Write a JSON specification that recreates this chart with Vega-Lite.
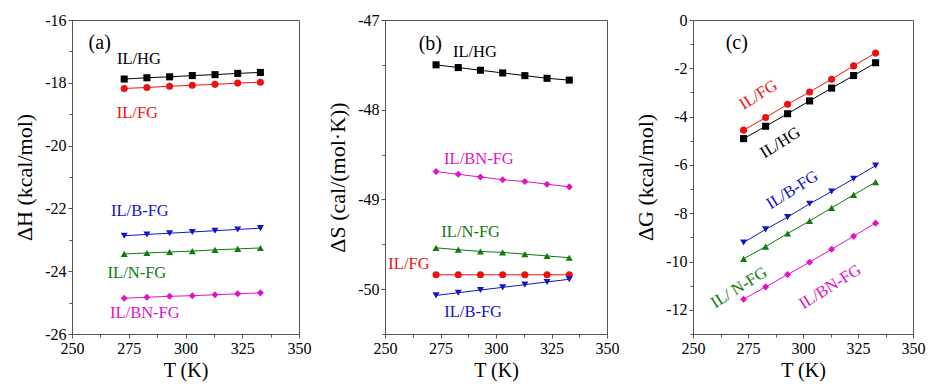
{
  "$schema": "https://vega.github.io/schema/vega-lite/v6.json",
  "padding": {"left": 13, "top": 11, "right": 5, "bottom": 5},
  "background": "white",
  "spacing": 86,
  "bounds": "flush",
  "config": {
    "font": "Liberation Serif",
    "view": {"stroke": "#555", "strokeWidth": 1},
    "axis": {
      "grid": false,
      "labelFont": "Liberation Serif",
      "titleFont": "Liberation Serif",
      "labelFontSize": 16,
      "titleFontWeight": "normal",
      "labelColor": "#000",
      "titleColor": "#000",
      "domainColor": "#555",
      "tickColor": "#555",
      "labelPadding": 2,
      "labelFlush": false
    },
    "axisX": {"titleFontSize": 20, "titlePadding": 4},
    "axisY": {"titleFontSize": 22, "titlePadding": 8},
    "text": {"font": "Liberation Serif", "fontSize": 16}
  },
  "datasets": {
    "pts": [
      {"panel": "a", "series": "IL/HG", "T": 273, "v": -17.88},
      {"panel": "a", "series": "IL/HG", "T": 283, "v": -17.84},
      {"panel": "a", "series": "IL/HG", "T": 293, "v": -17.81},
      {"panel": "a", "series": "IL/HG", "T": 303, "v": -17.77},
      {"panel": "a", "series": "IL/HG", "T": 313, "v": -17.74},
      {"panel": "a", "series": "IL/HG", "T": 323, "v": -17.70},
      {"panel": "a", "series": "IL/HG", "T": 333, "v": -17.67},
      {"panel": "a", "series": "IL/FG", "T": 273, "v": -18.18},
      {"panel": "a", "series": "IL/FG", "T": 283, "v": -18.15},
      {"panel": "a", "series": "IL/FG", "T": 293, "v": -18.11},
      {"panel": "a", "series": "IL/FG", "T": 303, "v": -18.08},
      {"panel": "a", "series": "IL/FG", "T": 313, "v": -18.05},
      {"panel": "a", "series": "IL/FG", "T": 323, "v": -18.01},
      {"panel": "a", "series": "IL/FG", "T": 333, "v": -17.98},
      {"panel": "a", "series": "IL/B-FG", "T": 273, "v": -22.87},
      {"panel": "a", "series": "IL/B-FG", "T": 283, "v": -22.83},
      {"panel": "a", "series": "IL/B-FG", "T": 293, "v": -22.79},
      {"panel": "a", "series": "IL/B-FG", "T": 303, "v": -22.75},
      {"panel": "a", "series": "IL/B-FG", "T": 313, "v": -22.71},
      {"panel": "a", "series": "IL/B-FG", "T": 323, "v": -22.67},
      {"panel": "a", "series": "IL/B-FG", "T": 333, "v": -22.63},
      {"panel": "a", "series": "IL/N-FG", "T": 273, "v": -23.45},
      {"panel": "a", "series": "IL/N-FG", "T": 283, "v": -23.42},
      {"panel": "a", "series": "IL/N-FG", "T": 293, "v": -23.39},
      {"panel": "a", "series": "IL/N-FG", "T": 303, "v": -23.36},
      {"panel": "a", "series": "IL/N-FG", "T": 313, "v": -23.32},
      {"panel": "a", "series": "IL/N-FG", "T": 323, "v": -23.29},
      {"panel": "a", "series": "IL/N-FG", "T": 333, "v": -23.26},
      {"panel": "a", "series": "IL/BN-FG", "T": 273, "v": -24.86},
      {"panel": "a", "series": "IL/BN-FG", "T": 283, "v": -24.83},
      {"panel": "a", "series": "IL/BN-FG", "T": 293, "v": -24.80},
      {"panel": "a", "series": "IL/BN-FG", "T": 303, "v": -24.78},
      {"panel": "a", "series": "IL/BN-FG", "T": 313, "v": -24.75},
      {"panel": "a", "series": "IL/BN-FG", "T": 323, "v": -24.72},
      {"panel": "a", "series": "IL/BN-FG", "T": 333, "v": -24.69},
      {"panel": "b", "series": "IL/HG", "T": 273, "v": -47.50},
      {"panel": "b", "series": "IL/HG", "T": 283, "v": -47.53},
      {"panel": "b", "series": "IL/HG", "T": 293, "v": -47.56},
      {"panel": "b", "series": "IL/HG", "T": 303, "v": -47.59},
      {"panel": "b", "series": "IL/HG", "T": 313, "v": -47.62},
      {"panel": "b", "series": "IL/HG", "T": 323, "v": -47.65},
      {"panel": "b", "series": "IL/HG", "T": 333, "v": -47.67},
      {"panel": "b", "series": "IL/BN-FG", "T": 273, "v": -48.69},
      {"panel": "b", "series": "IL/BN-FG", "T": 283, "v": -48.72},
      {"panel": "b", "series": "IL/BN-FG", "T": 293, "v": -48.75},
      {"panel": "b", "series": "IL/BN-FG", "T": 303, "v": -48.78},
      {"panel": "b", "series": "IL/BN-FG", "T": 313, "v": -48.80},
      {"panel": "b", "series": "IL/BN-FG", "T": 323, "v": -48.83},
      {"panel": "b", "series": "IL/BN-FG", "T": 333, "v": -48.86},
      {"panel": "b", "series": "IL/N-FG", "T": 273, "v": -49.54},
      {"panel": "b", "series": "IL/N-FG", "T": 283, "v": -49.56},
      {"panel": "b", "series": "IL/N-FG", "T": 293, "v": -49.58},
      {"panel": "b", "series": "IL/N-FG", "T": 303, "v": -49.59},
      {"panel": "b", "series": "IL/N-FG", "T": 313, "v": -49.61},
      {"panel": "b", "series": "IL/N-FG", "T": 323, "v": -49.63},
      {"panel": "b", "series": "IL/N-FG", "T": 333, "v": -49.65},
      {"panel": "b", "series": "IL/FG", "T": 273, "v": -49.84},
      {"panel": "b", "series": "IL/FG", "T": 283, "v": -49.84},
      {"panel": "b", "series": "IL/FG", "T": 293, "v": -49.84},
      {"panel": "b", "series": "IL/FG", "T": 303, "v": -49.84},
      {"panel": "b", "series": "IL/FG", "T": 313, "v": -49.84},
      {"panel": "b", "series": "IL/FG", "T": 323, "v": -49.84},
      {"panel": "b", "series": "IL/FG", "T": 333, "v": -49.84},
      {"panel": "b", "series": "IL/B-FG", "T": 273, "v": -50.07},
      {"panel": "b", "series": "IL/B-FG", "T": 283, "v": -50.04},
      {"panel": "b", "series": "IL/B-FG", "T": 293, "v": -50.01},
      {"panel": "b", "series": "IL/B-FG", "T": 303, "v": -49.98},
      {"panel": "b", "series": "IL/B-FG", "T": 313, "v": -49.95},
      {"panel": "b", "series": "IL/B-FG", "T": 323, "v": -49.92},
      {"panel": "b", "series": "IL/B-FG", "T": 333, "v": -49.89},
      {"panel": "c", "series": "IL/FG", "T": 273, "v": -4.56},
      {"panel": "c", "series": "IL/FG", "T": 283, "v": -4.04},
      {"panel": "c", "series": "IL/FG", "T": 293, "v": -3.49},
      {"panel": "c", "series": "IL/FG", "T": 303, "v": -2.98},
      {"panel": "c", "series": "IL/FG", "T": 313, "v": -2.45},
      {"panel": "c", "series": "IL/FG", "T": 323, "v": -1.90},
      {"panel": "c", "series": "IL/FG", "T": 333, "v": -1.37},
      {"panel": "c", "series": "IL/HG", "T": 273, "v": -4.91},
      {"panel": "c", "series": "IL/HG", "T": 283, "v": -4.40},
      {"panel": "c", "series": "IL/HG", "T": 293, "v": -3.88},
      {"panel": "c", "series": "IL/HG", "T": 303, "v": -3.35},
      {"panel": "c", "series": "IL/HG", "T": 313, "v": -2.82},
      {"panel": "c", "series": "IL/HG", "T": 323, "v": -2.30},
      {"panel": "c", "series": "IL/HG", "T": 333, "v": -1.77},
      {"panel": "c", "series": "IL/B-FG", "T": 273, "v": -9.21},
      {"panel": "c", "series": "IL/B-FG", "T": 283, "v": -8.67},
      {"panel": "c", "series": "IL/B-FG", "T": 293, "v": -8.16},
      {"panel": "c", "series": "IL/B-FG", "T": 303, "v": -7.61},
      {"panel": "c", "series": "IL/B-FG", "T": 313, "v": -7.10},
      {"panel": "c", "series": "IL/B-FG", "T": 323, "v": -6.57},
      {"panel": "c", "series": "IL/B-FG", "T": 333, "v": -6.03},
      {"panel": "c", "series": "IL/N-FG", "T": 273, "v": -9.89},
      {"panel": "c", "series": "IL/N-FG", "T": 283, "v": -9.38},
      {"panel": "c", "series": "IL/N-FG", "T": 293, "v": -8.84},
      {"panel": "c", "series": "IL/N-FG", "T": 303, "v": -8.32},
      {"panel": "c", "series": "IL/N-FG", "T": 313, "v": -7.78},
      {"panel": "c", "series": "IL/N-FG", "T": 323, "v": -7.24},
      {"panel": "c", "series": "IL/N-FG", "T": 333, "v": -6.71},
      {"panel": "c", "series": "IL/BN-FG", "T": 273, "v": -11.56},
      {"panel": "c", "series": "IL/BN-FG", "T": 283, "v": -11.05},
      {"panel": "c", "series": "IL/BN-FG", "T": 293, "v": -10.54},
      {"panel": "c", "series": "IL/BN-FG", "T": 303, "v": -10.03},
      {"panel": "c", "series": "IL/BN-FG", "T": 313, "v": -9.49},
      {"panel": "c", "series": "IL/BN-FG", "T": 323, "v": -8.95},
      {"panel": "c", "series": "IL/BN-FG", "T": 333, "v": -8.41}
    ],
    "labels": [
      {"panel": "a", "series": "IL/HG", "text": "IL/HG", "T": 279.5, "v": -17.25},
      {"panel": "a", "series": "IL/FG", "text": "IL/FG", "T": 278.8, "v": -18.97},
      {"panel": "a", "series": "IL/B-FG", "text": "IL/B-FG", "T": 279.9, "v": -22.08},
      {"panel": "a", "series": "IL/N-FG", "text": "IL/N-FG", "T": 278.6, "v": -24.07},
      {"panel": "a", "series": "IL/BN-FG", "text": "IL/BN-FG", "T": 282.1, "v": -25.34},
      {"panel": "b", "series": "IL/HG", "text": "IL/HG", "T": 290.5, "v": -47.36},
      {"panel": "b", "series": "IL/BN-FG", "text": "IL/BN-FG", "T": 292.3, "v": -48.55},
      {"panel": "b", "series": "IL/N-FG", "text": "IL/N-FG", "T": 288.6, "v": -49.36},
      {"panel": "b", "series": "IL/FG", "text": "IL/FG", "T": 260.8, "v": -49.72},
      {"panel": "b", "series": "IL/B-FG", "text": "IL/B-FG", "T": 289.7, "v": -50.25},
      {"panel": "c", "series": "IL/FG", "text": "IL/FG", "T": 279.7, "v": -3.10},
      {"panel": "c", "series": "IL/HG", "text": "IL/HG", "T": 289.7, "v": -5.08},
      {"panel": "c", "series": "IL/B-FG", "text": "IL/B-FG", "T": 295.1, "v": -7.04},
      {"panel": "c", "series": "IL/N-FG", "text": "IL/ N-FG", "T": 270.9, "v": -11.08},
      {"panel": "c", "series": "IL/BN-FG", "text": "IL/BN-FG", "T": 312.3, "v": -11.05}
    ],
    "tags": [
      {"panel": "a", "text": "(a)", "T": 262.2, "v": -16.74},
      {"panel": "b", "text": "(b)", "T": 270.4, "v": -47.27},
      {"panel": "c", "text": "(c)", "T": 269.9, "v": -0.95}
    ]
  },
  "hconcat": [
    {
      "width": 227,
      "height": 314,
      "encoding": {
        "x": {"field": "T", "type": "quantitative", "scale": {"domain": [250, 350], "nice": false, "zero": false},
          "axis": {"title": "T (K)", "values": [250, 262.5, 275, 287.5, 300, 312.5, 325, 337.5, 350],
            "labelExpr": "datum.value % 25 == 0 ? datum.label : ''",
            "tickSize": {"condition": {"test": "datum.value % 25 == 0", "value": 4}, "value": 3}}},
        "y": {"field": "v", "type": "quantitative", "scale": {"domain": [-26, -16], "nice": false, "zero": false},
          "axis": {"title": "ΔH (kcal/mol)", "values": [-26, -25, -24, -23, -22, -21, -20, -19, -18, -17, -16],
            "labelExpr": "datum.value % 2 == 0 ? toString(datum.value) : ''",
            "tickSize": {"condition": {"test": "datum.value % 2 == 0", "value": 4}, "value": 3}}}
      },
      "layer": [
        {"data": {"name": "pts"}, "transform": [{"filter": "datum.panel == 'a'"}],
          "mark": {"type": "line", "strokeWidth": 1},
          "encoding": {"color": {"field": "series", "type": "nominal", "legend": null,
            "scale": {"domain": ["IL/HG", "IL/FG", "IL/B-FG", "IL/N-FG", "IL/BN-FG"], "range": ["#000000", "#ee1111", "#1414c8", "#107a10", "#e014c4"]}}, "detail": {"field": "series"}}},
        {"data": {"name": "pts"}, "transform": [{"filter": "datum.panel == 'a'"}],
          "mark": {"type": "point", "filled": true, "size": 50, "opacity": 1},
          "encoding": {"color": {"field": "series", "type": "nominal", "legend": null},
            "shape": {"field": "series", "type": "nominal", "legend": null,
              "scale": {"domain": ["IL/HG", "IL/FG", "IL/B-FG", "IL/N-FG", "IL/BN-FG"], "range": ["square", "circle", "triangle-down", "triangle-up", "diamond"]}}}},
        {"data": {"name": "labels"}, "transform": [{"filter": "datum.panel == 'a'"}],
          "mark": {"type": "text", "fontSize": 16.5},
          "encoding": {"text": {"field": "text"}, "color": {"field": "series", "type": "nominal", "legend": null}}},
        {"data": {"name": "tags"}, "transform": [{"filter": "datum.panel == 'a'"}],
          "mark": {"type": "text", "fontSize": 20, "color": "#000"},
          "encoding": {"text": {"field": "text"}}}
      ]
    },
    {
      "width": 222,
      "height": 314,
      "encoding": {
        "x": {"field": "T", "type": "quantitative", "scale": {"domain": [250, 350], "nice": false, "zero": false},
          "axis": {"title": "T (K)", "values": [250, 262.5, 275, 287.5, 300, 312.5, 325, 337.5, 350],
            "labelExpr": "datum.value % 25 == 0 ? datum.label : ''",
            "tickSize": {"condition": {"test": "datum.value % 25 == 0", "value": 4}, "value": 3}}},
        "y": {"field": "v", "type": "quantitative", "scale": {"domain": [-50.5, -47], "nice": false, "zero": false},
          "axis": {"title": "ΔS (cal/(mol·K))", "values": [-50.5, -50, -49.5, -49, -48.5, -48, -47.5, -47],
            "labelExpr": "datum.value % 1 == 0 ? toString(datum.value) : ''",
            "tickSize": {"condition": {"test": "datum.value % 1 == 0", "value": 4}, "value": 3}}}
      },
      "layer": [
        {"data": {"name": "pts"}, "transform": [{"filter": "datum.panel == 'b'"}],
          "mark": {"type": "line", "strokeWidth": 1},
          "encoding": {"color": {"field": "series", "type": "nominal", "legend": null,
            "scale": {"domain": ["IL/HG", "IL/FG", "IL/B-FG", "IL/N-FG", "IL/BN-FG"], "range": ["#000000", "#ee1111", "#1414c8", "#107a10", "#e014c4"]}}, "detail": {"field": "series"}}},
        {"data": {"name": "pts"}, "transform": [{"filter": "datum.panel == 'b'"}],
          "mark": {"type": "point", "filled": true, "size": 50, "opacity": 1},
          "encoding": {"color": {"field": "series", "type": "nominal", "legend": null},
            "shape": {"field": "series", "type": "nominal", "legend": null,
              "scale": {"domain": ["IL/HG", "IL/FG", "IL/B-FG", "IL/N-FG", "IL/BN-FG"], "range": ["square", "circle", "triangle-down", "triangle-up", "diamond"]}}}},
        {"data": {"name": "labels"}, "transform": [{"filter": "datum.panel == 'b'"}],
          "mark": {"type": "text", "fontSize": 16.5},
          "encoding": {"text": {"field": "text"}, "color": {"field": "series", "type": "nominal", "legend": null}}},
        {"data": {"name": "tags"}, "transform": [{"filter": "datum.panel == 'b'"}],
          "mark": {"type": "text", "fontSize": 20, "color": "#000"},
          "encoding": {"text": {"field": "text"}}}
      ]
    },
    {
      "width": 220,
      "height": 314,
      "encoding": {
        "x": {"field": "T", "type": "quantitative", "scale": {"domain": [250, 350], "nice": false, "zero": false},
          "axis": {"title": "T (K)", "values": [250, 262.5, 275, 287.5, 300, 312.5, 325, 337.5, 350],
            "labelExpr": "datum.value % 25 == 0 ? datum.label : ''",
            "tickSize": {"condition": {"test": "datum.value % 25 == 0", "value": 4}, "value": 3}}},
        "y": {"field": "v", "type": "quantitative", "scale": {"domain": [-13, 0], "nice": false, "zero": false},
          "axis": {"title": "ΔG (kcal/mol)", "values": [-13, -12, -11, -10, -9, -8, -7, -6, -5, -4, -3, -2, -1, 0],
            "labelExpr": "datum.value % 2 == 0 ? toString(datum.value) : ''",
            "tickSize": {"condition": {"test": "datum.value % 2 == 0", "value": 4}, "value": 3}}}
      },
      "layer": [
        {"data": {"name": "pts"}, "transform": [{"filter": "datum.panel == 'c'"}],
          "mark": {"type": "line", "strokeWidth": 1},
          "encoding": {"color": {"field": "series", "type": "nominal", "legend": null,
            "scale": {"domain": ["IL/HG", "IL/FG", "IL/B-FG", "IL/N-FG", "IL/BN-FG"], "range": ["#000000", "#ee1111", "#1414c8", "#107a10", "#e014c4"]}}, "detail": {"field": "series"}}},
        {"data": {"name": "pts"}, "transform": [{"filter": "datum.panel == 'c'"}],
          "mark": {"type": "point", "filled": true, "size": 50, "opacity": 1},
          "encoding": {"color": {"field": "series", "type": "nominal", "legend": null},
            "shape": {"field": "series", "type": "nominal", "legend": null,
              "scale": {"domain": ["IL/HG", "IL/FG", "IL/B-FG", "IL/N-FG", "IL/BN-FG"], "range": ["square", "circle", "triangle-down", "triangle-up", "diamond"]}}}},
        {"data": {"name": "labels"}, "transform": [{"filter": "datum.panel == 'c'"}],
          "mark": {"type": "text", "fontSize": 16.5, "angle": 328},
          "encoding": {"text": {"field": "text"}, "color": {"field": "series", "type": "nominal", "legend": null}}},
        {"data": {"name": "tags"}, "transform": [{"filter": "datum.panel == 'c'"}],
          "mark": {"type": "text", "fontSize": 20, "color": "#000"},
          "encoding": {"text": {"field": "text"}}}
      ]
    }
  ]
}
